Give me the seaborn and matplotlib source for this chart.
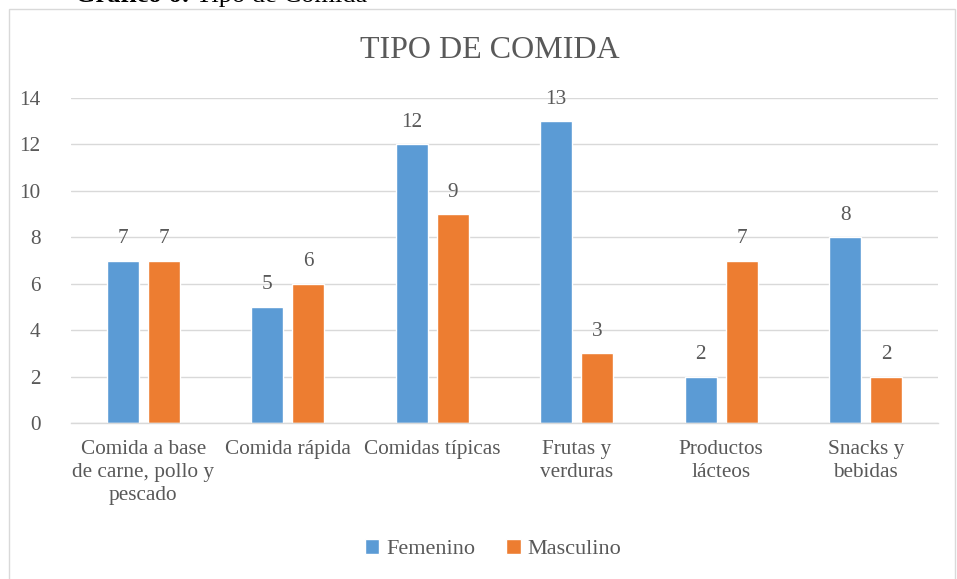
import pandas as pd
import matplotlib.pyplot as plt
import seaborn as sns
from matplotlib.patches import Rectangle

# Data
categories = ["Comida a base\nde carne, pollo y\npescado", "Comida rápida", "Comidas típicas",
              "Frutas y\nverduras", "Productos\nlácteos", "Snacks y\nbebidas"]
femenino = [7, 5, 12, 13, 2, 8]
masculino = [7, 6, 9, 3, 7, 2]
series = ["Femenino", "Masculino"]

data = pd.DataFrame({
    "Categoria": categories * 2,
    "Genero": [series[0]] * len(categories) + [series[1]] * len(categories),
    "Valor": femenino + masculino,
})

sns.set_style("white")
plt.rcParams["font.family"] = ["Liberation Serif", "DejaVu Serif"]
text_gray = "#595959"
grid_gray = "#D9D9D9"

fig = plt.figure(figsize=(9.57, 5.79), dpi=100)
ax = fig.add_axes([71 / 957, 1 - 423 / 579, 867 / 957, 325 / 579])

sns.barplot(data=data, x="Categoria", y="Valor", hue="Genero",
            palette=["#5B9BD5", "#ED7D31"], width=0.57, gap=0.22,
            saturation=1, ax=ax, legend=True)

ax.set_ylim(0, 14)
ax.set_yticks(range(0, 15, 2))
ax.grid(axis="y", color=grid_gray, linewidth=1)
ax.set_axisbelow(True)
for s in ["top", "right", "left"]:
    ax.spines[s].set_visible(False)
ax.spines["bottom"].set_color(grid_gray)
ax.spines["bottom"].set_linewidth(1)
ax.set_xlabel("")
ax.set_ylabel("")
ax.tick_params(axis="both", length=0, labelsize=15.3, colors=text_gray, pad=12)
ax.tick_params(axis="y", pad=22)
for lbl in ax.get_xticklabels():
    lbl.set_linespacing(1.3)

for c in ax.containers:
    ax.bar_label(c, padding=9, fontsize=15.3, color=text_gray)

fig.text(490 / 957, 1 - 50 / 579, "TIPO DE COMIDA", fontsize=23, color=text_gray,
         ha="center", va="center")

leg = ax.legend(loc="center", bbox_to_anchor=(493 / 957, 1 - 549 / 579),
                bbox_transform=fig.transFigure, ncol=2, frameon=False,
                fontsize=16, handlelength=0.65, handleheight=0.65, handletextpad=0.3,
                columnspacing=1.4, labelcolor=text_gray)

# chart frame
fig.patches.append(Rectangle((9 / 957, -0.01), 946 / 957, 1 - 9 / 579 + 0.01,
                             transform=fig.transFigure, fill=False,
                             edgecolor=grid_gray, linewidth=1))

# caption, cut off at the top as in the source
t1 = fig.text(75 / 957, 1 - 2 / 579, "Gráfico 6:", fontsize=19, fontweight="bold",
              va="baseline", ha="left", color="black")
ax.annotate(" Tipo de Comida", xy=(1, 0), xycoords=t1, fontsize=19, color="black",
            va="bottom", ha="left", annotation_clip=False)

fig.savefig("out.png", dpi=100)
